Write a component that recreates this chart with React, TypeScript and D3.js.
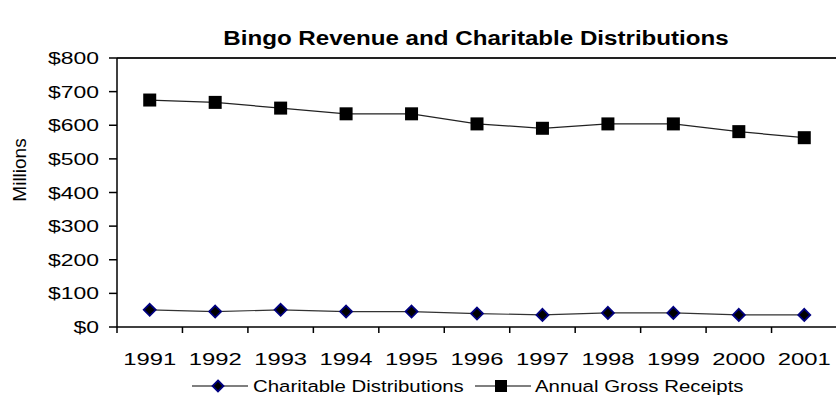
import React, { useRef, useEffect } from "react";
import * as d3 from "d3";

const years = ["1991", "1992", "1993", "1994", "1995", "1996", "1997", "1998", "1999", "2000", "2001"];
const grossReceipts = [675, 668, 651, 634, 634, 604, 591, 604, 604, 581, 563];
const charitable = [51, 46, 51, 46, 46, 40, 36, 42, 42, 36, 36];
const yTicks = [0, 100, 200, 300, 400, 500, 600, 700, 800];

const width = 836;
const height = 407;
const plot = { left: 117, right: 837, top: 58, bottom: 327 };
const font = "'Liberation Sans', Arial, sans-serif";
const stretch = 1.35;

const App: React.FC = () => {
  const svgRef = useRef<SVGSVGElement | null>(null);

  useEffect(() => {
    if (!svgRef.current) return;
    const svg = d3.select(svgRef.current);
    svg.selectAll("*").remove();

    const x = d3.scaleBand<string>().domain(years).range([plot.left, plot.right]);
    const y = d3.scaleLinear().domain([0, 800]).range([plot.bottom, plot.top]);
    const cx = (d: string) => (x(d) as number) + x.bandwidth() / 2;

    // title
    svg
      .append("text")
      .attr("transform", `translate(476,45) scale(1.15,1)`)
      .attr("text-anchor", "middle")
      .attr("font-family", font)
      .attr("font-weight", "bold")
      .attr("font-size", 21)
      .text("Bingo Revenue and Charitable Distributions");

    // top border line
    svg
      .append("line")
      .attr("x1", plot.left)
      .attr("x2", width)
      .attr("y1", y(800))
      .attr("y2", y(800))
      .attr("stroke", "#222")
      .attr("stroke-width", 2);

    // y axis
    svg
      .append("line")
      .attr("x1", plot.left)
      .attr("x2", plot.left)
      .attr("y1", y(800))
      .attr("y2", plot.bottom + 6)
      .attr("stroke", "#000")
      .attr("stroke-width", 1.5);

    yTicks.forEach((t) => {
      svg
        .append("line")
        .attr("x1", plot.left - 8)
        .attr("x2", plot.left)
        .attr("y1", y(t))
        .attr("y2", y(t))
        .attr("stroke", "#000")
        .attr("stroke-width", 1.5);
      svg
        .append("text")
        .attr("transform", `translate(99,${y(t) + 6}) scale(${stretch},1)`)
        .attr("text-anchor", "end")
        .attr("font-family", font)
        .attr("font-size", 17)
        .text(`$${t}`);
    });

    svg
      .append("text")
      .attr("transform", `translate(26,170) rotate(-90)`)
      .attr("text-anchor", "middle")
      .attr("font-family", font)
      .attr("font-size", 19)
      .text("Millions");

    // x axis
    svg
      .append("line")
      .attr("x1", plot.left)
      .attr("x2", width)
      .attr("y1", plot.bottom)
      .attr("y2", plot.bottom)
      .attr("stroke", "#000")
      .attr("stroke-width", 1.5);

    years.forEach((yr, i) => {
      if (i > 0) {
        svg
          .append("line")
          .attr("x1", x(yr) as number)
          .attr("x2", x(yr) as number)
          .attr("y1", plot.bottom)
          .attr("y2", plot.bottom + 6)
          .attr("stroke", "#000")
          .attr("stroke-width", 1.5);
      }
      svg
        .append("text")
        .attr("transform", `translate(${cx(yr)},365) scale(1.4,1)`)
        .attr("text-anchor", "middle")
        .attr("font-family", font)
        .attr("font-size", 17)
        .text(yr);
    });

    const line = d3
      .line<number>()
      .x((_, i) => cx(years[i]))
      .y((d) => y(d));

    const diamond = (s: number) => `M0,${-s}L${s},0L0,${s}L${-s},0Z`;

    // charitable distributions
    svg
      .append("path")
      .datum(charitable)
      .attr("fill", "none")
      .attr("stroke", "#333")
      .attr("stroke-width", 1.2)
      .attr("d", line);
    svg
      .selectAll(".dia")
      .data(charitable)
      .enter()
      .append("path")
      .attr("transform", (d, i) => `translate(${cx(years[i])},${y(d)})`)
      .attr("d", diamond(6))
      .attr("fill", "#000")
      .attr("stroke", "#000080")
      .attr("stroke-width", 1.8);

    // gross receipts
    svg
      .append("path")
      .datum(grossReceipts)
      .attr("fill", "none")
      .attr("stroke", "#222")
      .attr("stroke-width", 1.2)
      .attr("d", line);
    svg
      .selectAll(".sq")
      .data(grossReceipts)
      .enter()
      .append("rect")
      .attr("x", (_, i) => cx(years[i]) - 6.5)
      .attr("y", (d) => y(d) - 6.5)
      .attr("width", 13)
      .attr("height", 13)
      .attr("fill", "#000");

    // legend
    const ly = 386;
    const lg = svg.append("g");
    lg.append("line")
      .attr("x1", 192)
      .attr("x2", 248)
      .attr("y1", ly)
      .attr("y2", ly)
      .attr("stroke", "#000")
      .attr("stroke-width", 1.2);
    lg.append("path")
      .attr("transform", `translate(218,${ly})`)
      .attr("d", diamond(5.5))
      .attr("fill", "#000")
      .attr("stroke", "#000080")
      .attr("stroke-width", 1.8);
    lg.append("text")
      .attr("transform", `translate(253,${ly + 6}) scale(1.2,1)`)
      .attr("font-family", font)
      .attr("font-size", 17)
      .text("Charitable Distributions");

    lg.append("line")
      .attr("x1", 475)
      .attr("x2", 531)
      .attr("y1", ly)
      .attr("y2", ly)
      .attr("stroke", "#000")
      .attr("stroke-width", 1.2);
    lg.append("rect")
      .attr("x", 495)
      .attr("y", ly - 6)
      .attr("width", 12)
      .attr("height", 12)
      .attr("fill", "#000");
    lg.append("text")
      .attr("transform", `translate(535,${ly + 6}) scale(1.2,1)`)
      .attr("font-family", font)
      .attr("font-size", 17)
      .text("Annual Gross Receipts");
  }, []);

  return (
    <svg
      ref={svgRef}
      width={width}
      height={height}
      style={{ position: "absolute", left: 0, top: 0, background: "#fff" }}
    />
  );
};

export default App;
